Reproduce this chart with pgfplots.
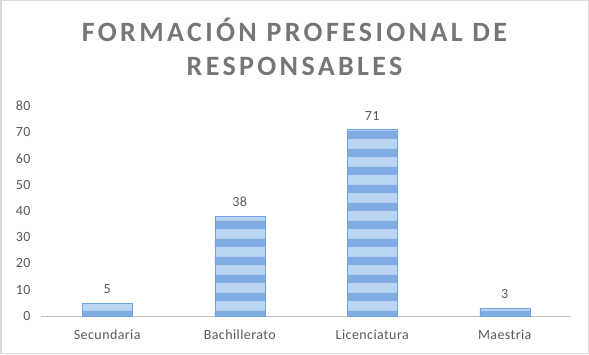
\documentclass[border=0pt]{standalone}
\usepackage{fontspec}
\setmainfont{Carlito}
\newfontfamily\titlefont[LetterSpace=12]{Carlito}
\newfontfamily\lblfont[LetterSpace=3]{Carlito}
\usepackage{pgfplots}
\pgfplotsset{compat=1.18}
\usetikzlibrary{patterns}
\pgfdeclarepatternformonly{hstripes}{\pgfqpoint{0pt}{0pt}}{\pgfqpoint{900pt}{18pt}}{\pgfqpoint{900pt}{18pt}}%
{\pgfpathrectangle{\pgfqpoint{-1pt}{0pt}}{\pgfqpoint{902pt}{8.5pt}}\pgfusepath{fill}}
\definecolor{barlight}{RGB}{186,213,243}
\definecolor{bardark}{RGB}{128,172,228}
\definecolor{baredge}{RGB}{115,162,222}
\definecolor{txt}{RGB}{89,89,89}
\definecolor{ttl}{RGB}{118,118,118}
\definecolor{frame}{RGB}{217,217,217}
\definecolor{axisgray}{RGB}{191,191,191}
\begin{document}
\begin{tikzpicture}[x=1pt,y=1pt]
\path[use as bounding box] (0,0) rectangle (589,354);
\draw[frame, line width=1.5pt] (0.75,0.75) rectangle (588.25,353.25);
\node[anchor=base, text=ttl, font=\titlefont\bfseries\fontsize{28}{30}\selectfont] at (294.5,312) {FORMACIÓN PROFESIONAL DE};
\node[anchor=base, text=ttl, font=\titlefont\bfseries\fontsize{28}{30}\selectfont] at (294.5,278) {RESPONSABLES};
\begin{axis}[
  at={(41pt,38pt)}, anchor=south west,
  scale only axis, width=530pt, height=210pt,
  xmin=-0.5, xmax=3.5, ymin=0, ymax=80,
  ytick={0,10,...,80},
  xtick={0,1,2,3},
  xticklabels={Secundaria,Bachillerato,Licenciatura,Maestria},
  axis lines=left,
  y axis line style={draw=none},
  x axis line style={draw=axisgray, line width=1pt, -},
  tick style={draw=none},
  major tick length=0pt,
  /pgf/number format/assume math mode=true,
  ticklabel style={text=txt, font=\lblfont\fontsize{14}{16}\selectfont},
  yticklabel style={xshift=-7pt},
  xticklabel style={yshift=-10pt},
  ybar, bar width=50pt,
  nodes near coords,
  every node near coord/.append style={text=txt, font=\lblfont\fontsize{14}{16}\selectfont, yshift=6pt},
  clip=false,
]
\addplot[fill=barlight, draw=baredge, line width=0.5pt,
  postaction={pattern=hstripes, pattern color=bardark}]
  coordinates {(0,5) (1,38) (2,71) (3,3)};
\end{axis}
\end{tikzpicture}
\end{document}
